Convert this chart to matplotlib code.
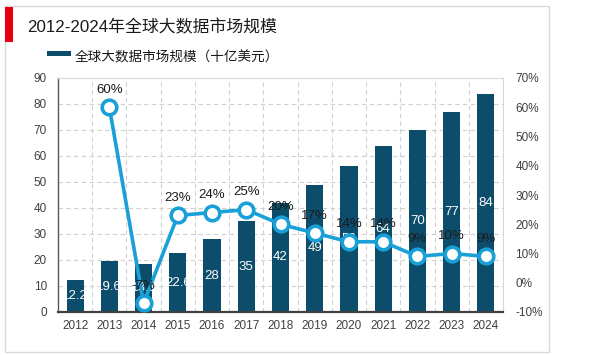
import matplotlib
matplotlib.use("Agg")
import matplotlib.pyplot as plt
from matplotlib.patches import Rectangle
from matplotlib.ticker import FixedLocator

plt.rcParams['font.family'] = ['Liberation Sans', 'Noto Sans CJK SC', 'DejaVu Sans']

years = ['2012', '2013', '2014', '2015', '2016', '2017', '2018', '2019',
         '2020', '2021', '2022', '2023', '2024']
market = [12.2, 19.6, 18.3, 22.6, 28, 35, 42, 49, 56, 64, 70, 77, 84]
market_labels = ['12.2', '19.6', '18.3', '22.6', '28', '35', '42', '49',
                 '56', '64', '70', '77', '84']
growth_years = years[1:]
growth = [60, -7, 23, 24, 25, 20, 17, 14, 14, 9, 10, 9]
left_ticks = [0, 10, 20, 30, 40, 50, 60, 70, 80, 90]
right_ticks = [-10, 0, 10, 20, 30, 40, 50, 60, 70]

title = '2012-2024年全球大数据市场规模'
legend_label = '全球大数据市场规模（十亿美元）'

W, H = 600, 355
fig = plt.figure(figsize=(6, 3.55), dpi=100)

def fx(px):
    return px / W

def fy(py):
    return 1 - py / H

# outer panel
fig.patches.append(Rectangle((fx(5), fy(352)), fx(549) - fx(5), fy(6) - fy(352),
                             transform=fig.transFigure, facecolor='none',
                             edgecolor='#d9d9d9', lw=1.0, zorder=0))
fig.patches.append(Rectangle((fx(5), fy(42)), fx(13) - fx(5), fy(7) - fy(42),
                             transform=fig.transFigure, facecolor='#e60012',
                             edgecolor='none', zorder=1))
fig.text(fx(27), fy(27), title, fontsize=12.2, color='#1a1a1a', va='center', ha='left',
         family=['Liberation Sans', 'Noto Sans CJK SC'])
# legend
fig.patches.append(Rectangle((fx(47), fy(56)), fx(71) - fx(47), fy(51) - fy(56),
                             transform=fig.transFigure, facecolor='#0b4d6b',
                             edgecolor='none', zorder=1))
fig.text(fx(75), fy(57), legend_label, fontsize=9.8, color='#1a1a1a',
         va='center', ha='left', family=['Noto Sans CJK SC', 'DejaVu Sans'])

ax = fig.add_axes([fx(58), fy(312), fx(503) - fx(58), fy(78) - fy(312)])
ax.set_zorder(2)
x = list(range(len(years)))
bar_color = '#0b4d6b'
ax.bar(x, market, width=0.5, color=bar_color, zorder=2)
for xi, v, lab in zip(x, market, market_labels):
    ax.text(xi, v / 2, lab, color='white', fontsize=9.5, ha='center', va='center', zorder=3)

ax.set_xlim(-0.5, len(years) - 0.5)
ax.set_ylim(0, 90)
ax.set_yticks(left_ticks)
ax.set_xticks(x)
ax.set_xticklabels(years)
ax.xaxis.set_minor_locator(FixedLocator([i + 0.5 for i in range(len(years) - 1)]))
ax.grid(axis='y', which='major', color='#d0d0d0', ls=(0, (4, 3)), lw=0.8, zorder=0)
ax.grid(axis='x', which='minor', color='#d0d0d0', ls=(0, (4, 3)), lw=0.8, zorder=0)
ax.tick_params(axis='both', which='both', length=0, labelsize=8.5, labelcolor='#404040')
ax.tick_params(axis='x', pad=6)
ax.tick_params(axis='y', pad=8)
for s in ['top', 'right']:
    ax.spines[s].set_color('#d9d9d9')
    ax.spines[s].set_linewidth(0.8)
ax.spines['left'].set_color('#595959')
ax.spines['left'].set_linewidth(1.0)
ax.spines['bottom'].set_color('#404040')
ax.spines['bottom'].set_linewidth(1.6)
ax.set_axisbelow(True)

ax2 = ax.twinx()
ax2.set_zorder(3)
ax2.patch.set_visible(False)
ax2.set_ylim(-10, 70)
ax2.set_yticks(right_ticks)
ax2.set_yticklabels([f'{t}%' for t in right_ticks])
ax2.tick_params(axis='y', length=0, labelsize=8.5, labelcolor='#404040', pad=9)
for s in ax2.spines.values():
    s.set_visible(False)
gx = [years.index(y) for y in growth_years]
line_color = '#1aa0d8'
ax2.plot(gx, growth, color=line_color, lw=2.6, marker='o', markersize=10.5,
         markerfacecolor='white', markeredgecolor=line_color, markeredgewidth=2.6,
         zorder=4)
for xi, g in zip(gx, growth):
    ax2.annotate(f'{g}%', (xi, g), xytext=(0, 12.5), textcoords='offset points',
                 ha='center', va='center', fontsize=9.5, color='#1a1a1a', zorder=5)

fig.savefig('out.png', dpi=100)
